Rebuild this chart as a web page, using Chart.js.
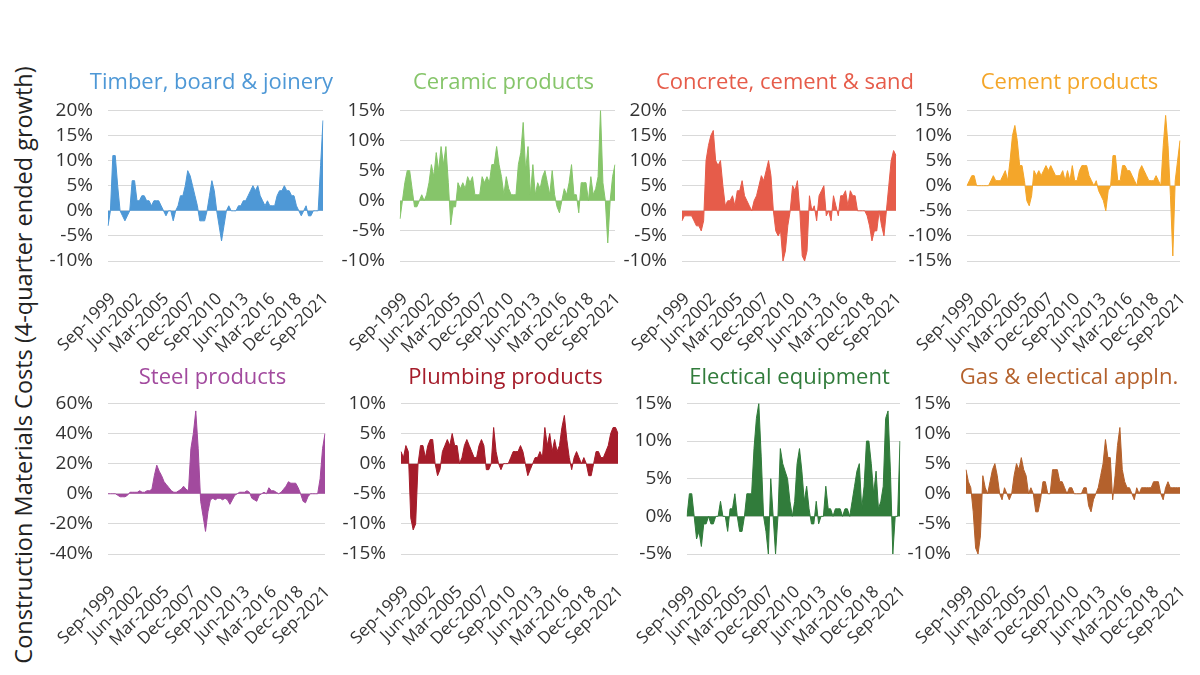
<!DOCTYPE html>
<html>
<head>
<meta charset="utf-8">
<script src="https://cdn.jsdelivr.net/npm/chart.js@4.4.0/dist/chart.umd.min.js"></script>
<style>
  body { margin: 0; background: #fff; }
  #wrap { position: relative; width: 1200px; height: 675px; overflow: hidden; font-family: "Open Sans", sans-serif; }
  canvas { position: absolute; }
  #ytitle {
    position: absolute; left: 23px; top: 365px; white-space: nowrap;
    transform: translate(-50%, -50%) rotate(-90deg);
    font-size: 23.5px; color: #222;
  }
</style>
</head>
<body>
<div id="wrap">
  <div id="ytitle">Construction Materials Costs (4-quarter ended growth)</div>
  <canvas id="c0"></canvas><canvas id="c1"></canvas><canvas id="c2"></canvas><canvas id="c3"></canvas>
  <canvas id="c4"></canvas><canvas id="c5"></canvas><canvas id="c6"></canvas><canvas id="c7"></canvas>
</div>
<script>
// quarterly categories, Sep-1999 .. Dec-2021
const months = ['Mar', 'Jun', 'Sep', 'Dec'];
const quarters = [];
for (let i = 0; i < 90; i++) {
  const q = 2 + i;
  quarters.push(months[q % 4] + '-' + (1999 + Math.floor(q / 4)));
}
const tickLabels = ['Sep-1999', 'Jun-2002', 'Mar-2005', 'Dec-2007', 'Sep-2010', 'Jun-2013', 'Mar-2016', 'Dec-2018', 'Sep-2021'];

// 4-quarter ended growth, %
const timber = [-3, 0, 11, 11, 5, 0, -1, -2, -1, 0, 6, 6, 2, 2, 3, 3, 2, 2, 1, 2, 2, 2, 1, 0, -1, 0, 0, -2, 0, 1,
  3, 3, 5, 8, 7, 5, 3, 1, -2, -2, -2, 0, 3, 6, 4, 0, -3, -6, -3, 0, 1, 0, 0, 0, 1, 1, 2, 2, 3, 4,
  5, 4, 5, 3, 2, 1, 2, 1, 1, 1, 3, 4, 4, 5, 4, 4, 3, 3, 1, 0, -1, 0, 1, -1, -1, 0, 0, 0, 9, 18];
const ceramic = [-3, 0, 3, 5, 5, 2, -1, -1, 0, 1, 0, 1, 3, 6, 4, 8, 5, 9, 6, 9, 3, -4, -1, -1, 3, 2, 3, 2, 4, 3,
  4, 1, 1, 1, 4, 3, 4, 3, 6, 6, 9, 6, 4, 1, 4, 2, 1, 1, 1, 6, 8, 13, 5, 9, 1, 6, 1, 3, 2, 4,
  5, 3, 1, 5, 1, -1, -2, 0, 2, 1, 3, 6, 1, 1, -2, 3, 3, 3, 0, 4, 1, 2, 4, 15, 3, 0, -7, 0, 4, 6];
const concrete = [-2, -1, -1, -1, -1, -2, -3, -3, -4, -2, 10, 13, 15, 16, 10, 9, 10, 5, 1, 2, 2, 3, 1, 4, 4, 6, 3, 2, 1, 0,
  2, 3, 5, 7, 6, 8, 10, 7, 0, -4, -5, -4, -10, -8, -3, 0, 5, 4, 6, 0, -9, -10, -8, 3, 0, 1, -2, 3, 4, 5,
  -1, 0, -2, 3, 1, -1, 3, 3, 4, 1, 4, 3, 3, 0, 0, 0, 0, -1, -3, -6, -4, -4, 0, -3, -5, 0, 5, 10, 12, 11];
const cement = [0, 1, 2, 2, 0, 0, 0, 0, 0, 0, 1, 2, 1, 1, 1, 2, 3, 1, 5, 10, 12, 9, 4, 4, 1, -3, -4, -2, 3, 2,
  3, 2, 3, 4, 3, 4, 3, 2, 2, 2, 3, 1, 3, 1, 4, 1, 1, 3, 4, 4, 4, 2, 1, 0, 1, -1, -2, -3, -5, -1,
  0, 6, 6, 1, 1, 4, 4, 3, 3, 2, 1, 0, 3, 4, 3, 2, 1, 1, 1, 2, 1, 0, 8, 14, 8, -2, -14, 1, 5, 9];
const steel = [0, 0, 0, 0, -1, -2, -2, -2, -1, 1, 1, 1, 1, 2, 1, 1, 2, 2, 3, 12, 19, 15, 12, 8, 6, 4, 2, 1, 1, 2,
  3, 5, 3, 2, 30, 40, 55, 30, -5, -15, -25, -12, -4, -3, -4, -3, -3, -4, -3, -4, -7, -4, -1, 0, 1, 1, 1, 2, 1, -3,
  -4, -5, -1, 0, 1, 0, 4, 2, 2, 1, 0, 1, 3, 5, 8, 7, 7, 7, 4, 0, -5, -6, -2, 0, 0, 0, 0, 10, 30, 40];
const plumbing = [2, 1, 3, 2, -9, -11, -10, 0, 3, 3, 1, 3, 4, 4, 0, -2, -1, 2, 3, 4, 3, 5, 3, 3, 0, 1, 3, 4, 3, 2,
  1, 1, 3, 4, 3, -1, -1, 0, 6, 2, 0, -1, 0, 0, 0, 1, 2, 2, 2, 3, 2, 0, -2, -1, 0, 1, 1, 2, 1, 6,
  3, 5, 2, 4, 2, 3, 6, 8, 4, 1, -1, 1, 2, 1, 0, 1, 0, -2, -2, 0, 2, 2, 1, 1, 2, 3, 5, 6, 6, 5];
const electrical = [0, 3, 3, 0, -3, -2, -4, -1, -1, 0, -1, -1, 0, 0, 2, 0, 0, -2, 1, 1, 3, 0, -2, -2, 0, 3, 3, 3, 9, 13,
  15, 8, 0, -2, -5, 5, 0, -5, 0, 9, 7, 6, 5, 2, 0, 2, 7, 9, 6, 2, 4, 1, -1, -1, 2, -1, 0, 0, 4, 1,
  1, 0, 1, 1, 1, 0, 1, 1, 0, 2, 4, 6, 7, 1, 4, 10, 10, 7, 3, 6, 1, 2, 4, 13, 14, 6, -5, 0, 0, 10];
const gasAppl = [4, 2, 1, -3, -9, -10, -7, 3, 1, 0, 2, 4, 5, 3, 0, -1, 1, 0, -1, 0, 3, 5, 4, 6, 4, 3, 0, 1, 0, -3,
  -3, -1, 2, 2, 0, 0, 4, 4, 4, 2, 2, 1, 0, 1, 1, 0, 0, 0, 0, 1, 1, -2, -3, -1, 0, 1, 3, 5, 9, 6,
  6, -1, 3, 8, 11, 4, 2, 1, 1, 0, -1, 1, 0, 1, 1, 1, 1, 1, 2, 2, 2, 0, -1, 1, 2, 1, 1, 1, 1, 1];

const FONT = '"Open Sans", sans-serif';
const Y_W = 60;   // space for y tick labels, left of the plot
const R_W = 52;   // blank space right of the plot (keeps title centred over the plot)

// plotLeft, plotRight, canvas top, plot bottom, title gap
function makePanel(id, box, title, color, values, yMin, yMax, yStep) {
  const [plotLeft, plotRight, top, plotBottom, gap] = box;
  const canvas = document.getElementById(id);
  canvas.width = plotRight - plotLeft + Y_W + R_W;
  canvas.height = plotBottom - top + 100;
  canvas.style.left = (plotLeft - Y_W) + 'px';
  canvas.style.top = top + 'px';
  new Chart(canvas, {
    type: 'line',
    data: {
      labels: quarters,
      datasets: [{
        data: values,
        borderColor: color,
        backgroundColor: color,
        borderWidth: 1,
        pointRadius: 0,
        tension: 0,
        fill: 'origin',
      }],
    },
    options: {
      responsive: false,
      animation: false,
      layout: { padding: 0 },
      plugins: {
        legend: { display: false },
        tooltip: { enabled: false },
        title: {
          display: true,
          text: title,
          color: color,
          font: { family: FONT, size: 22, weight: 'normal' },
          padding: { top: 0, bottom: gap },
        },
      },
      scales: {
        x: {
          grid: { display: false },
          border: { display: false },
          ticks: {
            autoSkip: false,
            minRotation: 45,
            maxRotation: 45,
            padding: 20,
            labelOffset: 5,
            color: '#333',
            font: { family: FONT, size: 17 },
            callback: (v, i) => (tickLabels.includes(quarters[i]) ? quarters[i] : ''),
          },
          afterFit: s => {
            s.height = 100;
            s.paddingLeft = 0;
            s.paddingRight = 0;
          },
        },
        y: {
          min: yMin,
          max: yMax,
          grid: { color: '#d9d9d9', drawTicks: false },
          border: { display: false },
          ticks: {
            stepSize: yStep,
            autoSkip: false,
            padding: 15,
            color: '#333',
            font: { family: FONT, size: 19 },
            callback: v => v + '%',
          },
          afterFit: s => { s.width = Y_W; },
        },
        yr: {
          type: 'linear',
          axis: 'y',
          position: 'right',
          grid: { display: false },
          border: { display: false },
          ticks: { display: false },
          afterFit: s => { s.width = R_W; },
        },
      },
    },
  });
}

makePanel('c0', [108, 323, 70, 261, 14], 'Timber, board & joinery', '#4e98d6', timber, -10, 20, 5);
makePanel('c1', [400, 615, 70, 261, 14], 'Ceramic products', '#86c56a', ceramic, -10, 15, 5);
makePanel('c2', [682, 896, 70, 261, 14], 'Concrete, cement & sand', '#e65c4a', concrete, -10, 20, 5);
makePanel('c3', [967, 1180, 70, 261, 14], 'Cement products', '#f4a62a', cement, -15, 15, 5);
makePanel('c4', [108, 325, 365, 554, 12], 'Steel products', '#a24a9e', steel, -40, 60, 20);
makePanel('c5', [401, 618, 365, 554, 12], 'Plumbing products', '#a51c2a', plumbing, -15, 10, 5);
makePanel('c6', [687, 900, 365, 554, 12], 'Electical equipment', '#317c3b', electrical, -5, 15, 5);
makePanel('c7', [966, 1180, 365, 554, 12], 'Gas & electical appln.', '#b4612c', gasAppl, -10, 15, 5);
</script>
</body>
</html>
